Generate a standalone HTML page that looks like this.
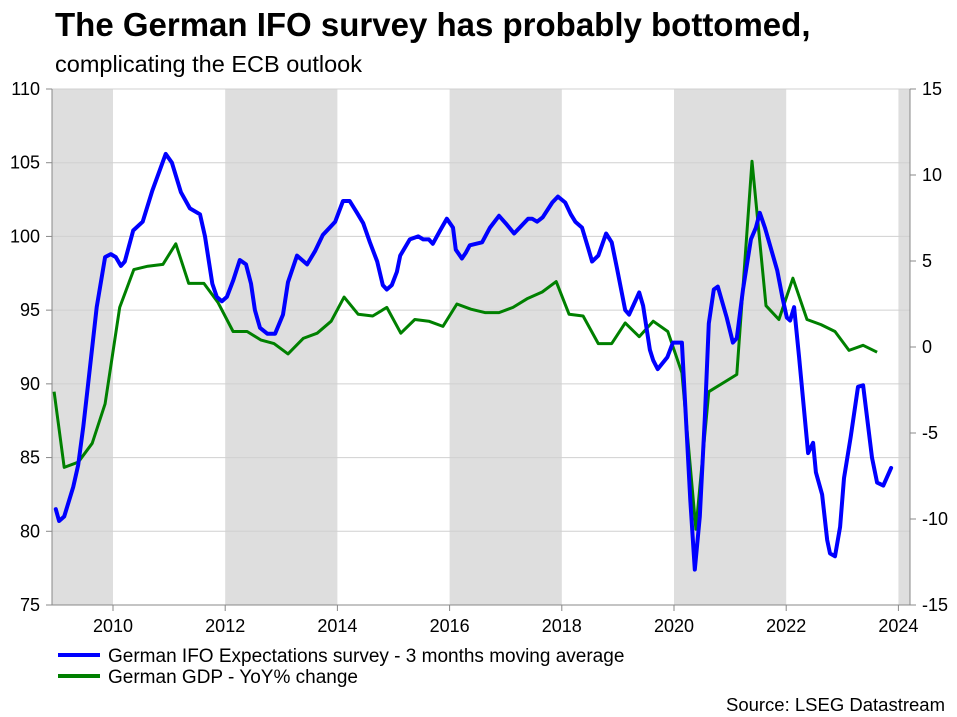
<!DOCTYPE html>
<html><head><meta charset="utf-8"><style>
body{margin:0;background:#fff;font-family:"Liberation Sans",Arial,sans-serif;}
svg{display:block}
</style></head><body>
<svg id="chart" width="957" height="717" xmlns="http://www.w3.org/2000/svg" font-family="Liberation Sans, Arial, sans-serif">
<text x="55" y="36" font-size="33" font-weight="bold" fill="#000">The German IFO survey has probably bottomed,</text>
<text x="55" y="72" font-size="23.5" fill="#000">complicating the ECB outlook</text>
<g id="shades"></g><g id="grid"></g><g id="axes"></g><g id="series"></g>
<g>
<line x1="58" y1="655" x2="100" y2="655" stroke="#0000ff" stroke-width="4"/>
<text x="108" y="662" font-size="19">German IFO Expectations survey - 3 months moving average</text>
<line x1="58" y1="676" x2="100" y2="676" stroke="#008000" stroke-width="4"/>
<text x="108" y="683" font-size="19">German GDP - YoY% change</text>
</g>
<text x="945" y="711" font-size="18.5" text-anchor="end">Source: LSEG Datastream</text>
</svg>
<script>
const ifoDates=[2008.98,2009.04,2009.13,2009.29,2009.38,2009.47,2009.55,2009.71,2009.86,2009.96,2010.05,2010.14,2010.21,2010.36,2010.53,2010.70,2010.94,2011.05,2011.21,2011.37,2011.55,2011.64,2011.77,2011.85,2011.94,2012.03,2012.14,2012.26,2012.37,2012.46,2012.53,2012.62,2012.75,2012.89,2013.03,2013.12,2013.28,2013.46,2013.60,2013.74,2013.96,2014.10,2014.22,2014.35,2014.46,2014.58,2014.71,2014.81,2014.88,2014.97,2015.06,2015.12,2015.29,2015.44,2015.53,2015.63,2015.70,2015.83,2015.95,2016.06,2016.11,2016.22,2016.29,2016.36,2016.58,2016.72,2016.88,2017.02,2017.15,2017.25,2017.40,2017.47,2017.56,2017.66,2017.83,2017.93,2018.06,2018.16,2018.24,2018.36,2018.47,2018.54,2018.65,2018.79,2018.89,2018.98,2019.13,2019.20,2019.38,2019.45,2019.57,2019.63,2019.71,2019.88,2019.98,2020.14,2020.29,2020.37,2020.46,2020.55,2020.62,2020.71,2020.78,2020.94,2021.05,2021.12,2021.23,2021.37,2021.46,2021.53,2021.62,2021.84,2021.93,2022.01,2022.07,2022.14,2022.23,2022.39,2022.48,2022.53,2022.64,2022.73,2022.78,2022.87,2022.96,2023.03,2023.15,2023.28,2023.37,2023.53,2023.62,2023.73,2023.87];
const ifoValues=[81.5,80.7,81.0,83.0,84.5,87.1,89.8,95.2,98.6,98.8,98.6,98.0,98.3,100.4,101.0,103.1,105.6,105.0,103.0,101.9,101.5,100.0,96.8,95.9,95.6,95.9,97.0,98.4,98.1,96.8,95.0,93.8,93.4,93.4,94.7,96.9,98.7,98.1,99.0,100.1,101.0,102.4,102.4,101.6,100.9,99.6,98.3,96.7,96.4,96.7,97.6,98.7,99.8,100.0,99.8,99.8,99.5,100.4,101.2,100.6,99.1,98.5,98.9,99.4,99.6,100.6,101.4,100.8,100.2,100.6,101.2,101.2,101.0,101.3,102.3,102.7,102.3,101.5,101.0,100.6,99.2,98.3,98.7,100.2,99.6,97.9,95.0,94.7,96.2,95.3,92.3,91.6,91.0,91.8,92.8,92.8,82.1,77.4,81.0,87.8,94.1,96.4,96.6,94.5,92.8,93.1,96.4,99.8,100.6,101.6,100.6,97.7,95.9,94.5,94.3,95.2,91.8,85.3,86.0,84.0,82.5,79.4,78.5,78.3,80.3,83.6,86.4,89.8,89.9,85.0,83.3,83.1,84.3];
const gdpDates=[2008.95,2009.13,2009.38,2009.63,2009.86,2010.12,2010.37,2010.62,2010.89,2011.12,2011.35,2011.62,2011.87,2012.14,2012.39,2012.64,2012.87,2013.12,2013.39,2013.64,2013.89,2014.12,2014.37,2014.63,2014.88,2015.13,2015.38,2015.63,2015.88,2016.13,2016.38,2016.63,2016.88,2017.13,2017.38,2017.65,2017.90,2018.13,2018.38,2018.65,2018.89,2019.13,2019.38,2019.63,2019.89,2020.14,2020.39,2020.62,2020.87,2021.12,2021.39,2021.64,2021.87,2022.12,2022.37,2022.62,2022.87,2023.12,2023.37,2023.62];
const gdpValues=[-2.6,-7.0,-6.7,-5.6,-3.3,2.3,4.5,4.7,4.8,6.0,3.7,3.7,2.6,0.9,0.9,0.4,0.2,-0.4,0.5,0.8,1.5,2.9,1.9,1.8,2.3,0.8,1.6,1.5,1.2,2.5,2.2,2.0,2.0,2.3,2.8,3.2,3.8,1.9,1.8,0.2,0.2,1.4,0.6,1.5,0.9,-1.5,-10.6,-2.6,-2.1,-1.6,10.8,2.4,1.6,4.0,1.6,1.3,0.9,-0.2,0.1,-0.3];
const leftTicks=[75,80,85,90,95,100,105,110];
const rightTicks=[-15,-10,-5,0,5,10,15];
const yearTicks=[2010,2012,2014,2016,2018,2020,2022,2024];
const shadeRanges=[[2008.91,2010],[2012,2014],[2016,2018],[2020,2022],[2024,2024.21]];

const NS='http://www.w3.org/2000/svg';
const X0=52,X1=910,Y0=89,Y1=605;
const xS=d=>113+(d-2010)*56.1;
const yL=v=>Y0+(110-v)*(Y1-Y0)/35;
const yR=v=>Y0+(15-v)*(Y1-Y0)/30;
function mk(tag,parent,attrs){const e=document.createElementNS(NS,tag);for(const k in attrs)e.setAttribute(k,attrs[k]);document.getElementById(parent).appendChild(e);return e;}

shadeRanges.forEach(r=>{
 const e=mk('rect','shades',{x:Math.max(X0,xS(r[0])),y:Y0,width:Math.min(X1,xS(r[1]))-Math.max(X0,xS(r[0])),height:Y1-Y0,fill:'#dedede'});
 
 
});
leftTicks.forEach(v=>{
 const y=yL(v);
 const g=mk('line','grid',{x1:X0,x2:X1,y1:y,y2:y,stroke:'#d0d0d0','stroke-width':1});
 
 
 mk('line','axes',{x1:X0-6,x2:X0,y1:y,y2:y,stroke:'#888'});
 const t=mk('text','axes',{x:X0-12,y:y+6,'font-size':18,'text-anchor':'end',fill:'#000'});
 t.textContent=v;
 
 
});
rightTicks.forEach(v=>{
 const y=yR(v);
 mk('line','axes',{x1:X1,x2:X1+6,y1:y,y2:y,stroke:'#888'});
 const t=mk('text','axes',{x:X1+12,y:y+6,'font-size':18,fill:'#000'});
 t.textContent=v;
 
 
});
yearTicks.forEach(v=>{
 const x=xS(v);
 mk('line','axes',{x1:x,x2:x,y1:Y1,y2:Y1+6,stroke:'#888'});
 const t=mk('text','axes',{x:x,y:Y1+27,'font-size':18,'text-anchor':'middle',fill:'#000'});
 t.textContent=v;
 
 
});
const la=mk('line','axes',{x1:X0,x2:X0,y1:Y0,y2:Y1,stroke:'#888'});


const ra=mk('line','axes',{x1:X1,x2:X1,y1:Y0,y2:Y1,stroke:'#888'});


const ba=mk('line','axes',{x1:X0,x2:X1,y1:Y1,y2:Y1,stroke:'#888'});



const gp=mk('polyline','series',{points:gdpDates.map((d,i)=>xS(d).toFixed(1)+','+yR(gdpValues[i]).toFixed(1)).join(' '),fill:'none',stroke:'#008000','stroke-width':3,'stroke-linejoin':'round'});


const ip=mk('polyline','series',{points:ifoDates.map((d,i)=>xS(d).toFixed(1)+','+yL(ifoValues[i]).toFixed(1)).join(' '),fill:'none',stroke:'#0000ff','stroke-width':4,'stroke-linejoin':'round','stroke-linecap':'round'});


</script>
</body></html>
